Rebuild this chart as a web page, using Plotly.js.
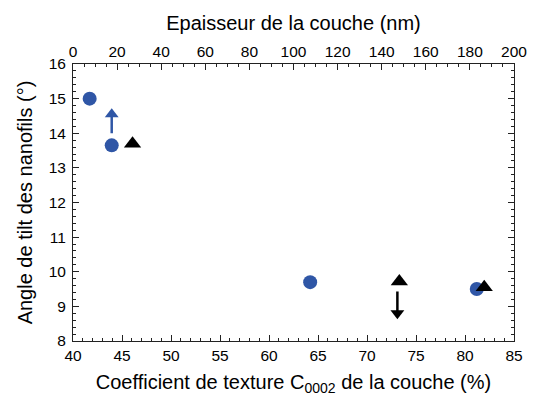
<!DOCTYPE html>
<html>
<head>
<meta charset="utf-8">
<script src="https://cdn.plot.ly/plotly-3.0.1.min.js"></script>
<style>html,body{margin:0;padding:0;background:#fff;}#chart{width:534px;height:406px;}</style>
</head>
<body>
<div id="chart"></div>
<script>
// Blue circles: texture coefficient C0002 (%) vs tilt angle (°)
const textureX = [41.7, 43.95, 64.2, 81.2];
const textureAngle = [15.0, 13.65, 9.7, 9.5];
// Black triangles: layer thickness (nm) vs tilt angle (°)
const thicknessX = [27, 148, 186.5];
const thicknessAngle = [13.7, 9.72, 9.55];
// Arrows (bottom-axis x, shaft tail y, arrow-head y, head symbol, colour)
const arrowX = [43.95, 73.1];
const arrowTail = [14.0, 9.43];
const arrowHead = [14.55, 8.8];
const arrowSymbol = ['triangle-up', 'triangle-down'];
const arrowColor = ['#2f56a6', '#000000'];

const fontFam = 'Liberation Sans, Arial, sans-serif';

const traces = [
  {x: textureX, y: textureAngle, type: 'scatter', mode: 'markers', xaxis: 'x', yaxis: 'y',
   marker: {symbol: 'circle', size: 14, color: '#2f56a6'}, showlegend: false},
  {x: thicknessX, y: thicknessAngle, type: 'scatter', mode: 'markers', xaxis: 'x2', yaxis: 'y',
   marker: {symbol: 'triangle-up', size: 15, color: '#000000'}, showlegend: false}
];
arrowX.forEach((ax, i) => {
  traces.push({x: [ax, ax], y: [arrowTail[i], arrowHead[i]], type: 'scatter', mode: 'lines',
    xaxis: 'x', yaxis: 'y', line: {color: arrowColor[i], width: 2.5}, showlegend: false});
  traces.push({x: [ax], y: [arrowHead[i]], type: 'scatter', mode: 'markers',
    xaxis: 'x', yaxis: 'y', marker: {symbol: arrowSymbol[i], size: 12, color: arrowColor[i]}, showlegend: false});
});

const lineCol = '#222';
const layout = {
  width: 534, height: 406,
  margin: {l: 73, r: 20, t: 64, b: 65},
  paper_bgcolor: '#fff', plot_bgcolor: '#fff',
  font: {family: fontFam, color: '#000', size: 15},
  showlegend: false,
  xaxis: {
    range: [40, 85], dtick: 5, tick0: 40, ticks: 'inside', ticklen: 6, tickwidth: 1, tickcolor: lineCol,
    showline: true, linecolor: lineCol, linewidth: 1, mirror: false, showgrid: false, zeroline: false,
    minor: {ticks: 'inside', dtick: 1, ticklen: 3, tickcolor: lineCol, showgrid: false},
    tickfont: {size: 15.5, family: fontFam},
    title: {text: 'Coefficient de texture C<sub>0002</sub> de la couche (%)', font: {size: 20, family: fontFam}, standoff: 12}
  },
  xaxis2: {
    overlaying: 'x', side: 'top', anchor: 'y',
    range: [0, 200], dtick: 20, tick0: 0, ticks: 'inside', ticklen: 6, tickwidth: 1, tickcolor: lineCol,
    showline: true, linecolor: lineCol, linewidth: 1, showgrid: false, zeroline: false,
    minor: {ticks: 'inside', dtick: 5, ticklen: 3, tickcolor: lineCol, showgrid: false},
    tickfont: {size: 15.5, family: fontFam},
    title: {text: 'Epaisseur de la couche (nm)', font: {size: 20, family: fontFam}, standoff: 6}
  },
  yaxis: {
    range: [8, 16], dtick: 1, tick0: 8, ticks: 'inside', ticklen: 6, tickwidth: 1, tickcolor: lineCol,
    showline: true, linecolor: lineCol, linewidth: 1, mirror: 'ticks', showgrid: false, zeroline: false,
    minor: {ticks: 'inside', dtick: 0.2, ticklen: 3, tickcolor: lineCol, showgrid: false},
    tickfont: {size: 15.5, family: fontFam}, ticklabelstandoff: 3,
    title: {text: 'Angle de tilt des nanofils (°)', font: {size: 20, family: fontFam}, standoff: 10}
  }
};

Plotly.newPlot('chart', traces, layout, {displayModeBar: false, staticPlot: true});
</script>
</body>
</html>
